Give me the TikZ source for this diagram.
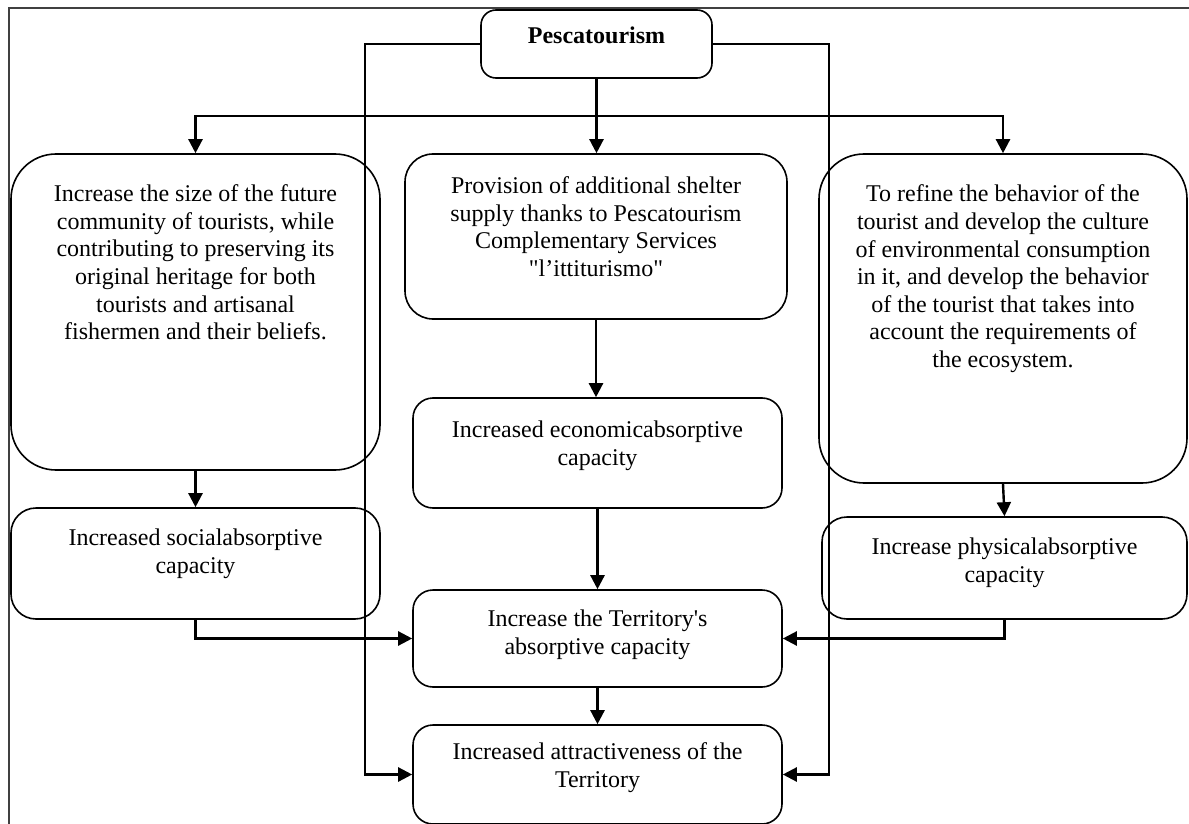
\documentclass[tikz,border=0pt]{standalone}
\usepackage{fontspec}
\newfontfamily\serifraw{Liberation Serif}
\usetikzlibrary{arrows.meta}
\tikzset{
  rbox/.style={draw, line width=1.6pt, rounded corners=#1, inner sep=0pt},
  txt/.style={align=center, inner sep=0pt, anchor=north, font=\serifraw\fontsize{24}{27.6}\selectfont},
  conn/.style={line width=2.4pt},
  arr/.style={line width=2.4pt, -{Triangle[length=14pt,width=14pt]}},
  frame/.style={line width=1.3pt, black!75}
}
\begin{document}
\begin{tikzpicture}[x=1pt,y=-1pt]
\useasboundingbox (0,0) rectangle (1189,824);
\fill[white] (0,0) rectangle (1189,824);
\draw[frame] (9,824) -- (9,8) -- (1189,8);
% boxes
\node[rbox=15pt, minimum width=231pt, minimum height=68pt] (P) at (596.5,44) {};
\node[rbox=45pt, minimum width=369pt, minimum height=316pt] (L) at (195.5,312) {};
\node[rbox=28pt, minimum width=382pt, minimum height=165pt] (C) at (596,236.5) {};
\node[rbox=45pt, minimum width=368pt, minimum height=329pt] (R) at (1003,318.5) {};
\node[rbox=20pt, minimum width=369pt, minimum height=110pt] (E) at (597.5,453) {};
\node[rbox=25pt, minimum width=369pt, minimum height=111pt] (S) at (195.5,563.5) {};
\node[rbox=25pt, minimum width=365pt, minimum height=102pt] (Ph) at (1004.5,568) {};
\node[rbox=20pt, minimum width=369pt, minimum height=97pt] (T) at (597.5,638.5) {};
\node[rbox=20pt, minimum width=369pt, minimum height=99pt] (A) at (597.5,774.5) {};
% texts
\node[txt] (Pt) at ([yshift=-17.5pt]P.north) {\bfseries Pescatourism};
\node[txt] (Lt) at ([yshift=-31.5pt]L.north) {Increase the size of the future\\community of tourists, while\\contributing to preserving its\\original heritage for both\\tourists and artisanal\\fishermen and their beliefs.};
\node[txt] (Ct) at ([yshift=-23.5pt]C.north) {Provision of additional shelter\\supply thanks to Pescatourism\\Complementary Services\\"l’ittiturismo"};
\node[txt] (Rt) at ([yshift=-31.5pt]R.north) {To refine the behavior of the\\tourist and develop the culture\\of environmental consumption\\in it, and develop the behavior\\of the tourist that takes into\\account the requirements of\\the ecosystem.};
\node[txt] (Et) at ([yshift=-23.5pt]E.north) {Increased economicabsorptive\\capacity};
\node[txt] (St) at ([yshift=-21.5pt]S.north) {Increased socialabsorptive\\capacity};
\node[txt] (Pht) at ([yshift=-21.5pt]Ph.north) {Increase physicalabsorptive\\capacity};
\node[txt] (Tt) at ([yshift=-20.5pt]T.north) {Increase the Territory's\\absorptive capacity};
\node[txt] (At) at ([yshift=-18.5pt]A.north) {Increased attractiveness of the\\Territory};
% connectors
\coordinate (J) at (596.5,116);
\coordinate (XL) at (365,44);
\coordinate (XR) at (829,44);
\draw[conn] (P.south) -- (J);
\draw[arr] (J) -| (L.north);
\draw[arr] (J) -| (R.north);
\draw[arr] (J) -- (J |- C.north);
\draw[arr] (P.west) -- (XL) |- (A.west);
\draw[arr] (P.east) -- (XR) |- (A.east);
\draw[arr] (L.south) -- (S.north);
\draw[arr] (C.south) -- (C.south |- E.north);
\draw[arr] (E.south) -- (T.north);
\draw[arr] (T.south) -- (A.north);
\draw[arr] (S.south) |- (T.west);
\draw[arr] (R.south) -- (Ph.north);
\draw[arr] (Ph.south) |- (T.east);
\end{tikzpicture}
\end{document}
